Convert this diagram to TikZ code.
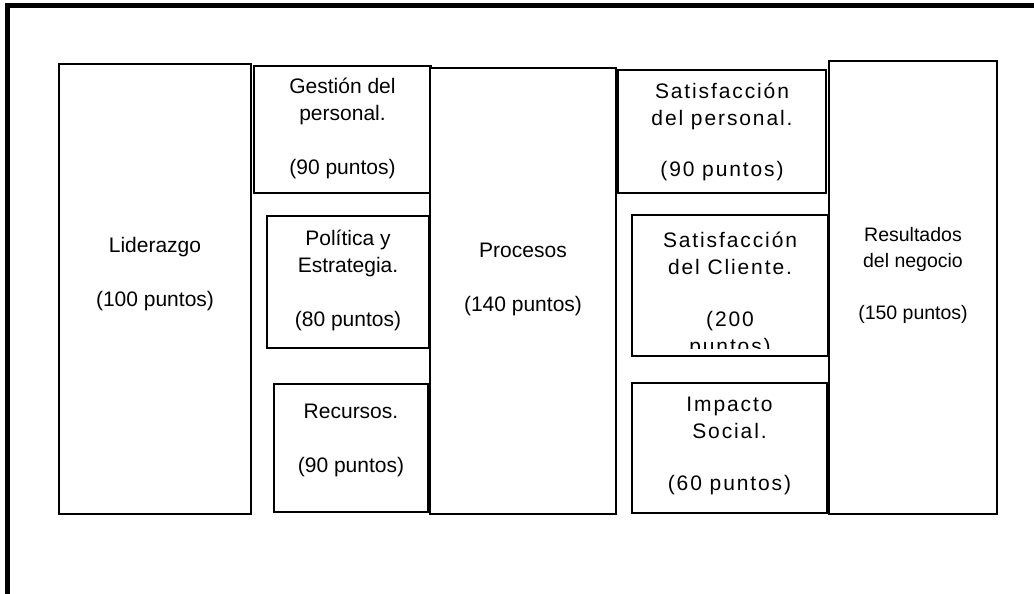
\documentclass[tikz,border=0pt]{standalone}
\usepackage{fontspec}
\setmainfont{Liberation Sans}
\newfontfamily\spacedfont{Liberation Sans}[LetterSpace=9]
\tikzset{
  box/.style={draw, line width=2.5pt, fill=white, rectangle, inner sep=0pt},
  txt/.style={align=center, inner sep=0pt, anchor=north, font=\fontsize{21}{27}\selectfont},
  rtxt/.style={txt, font=\spacedfont\fontsize{21}{27}\selectfont},
  restxt/.style={txt, font=\fontsize{19.5}{26}\selectfont},
  frameline/.style={line width=5pt}
}
\begin{document}
\begin{tikzpicture}[x=1pt,y=-1pt]
\useasboundingbox (0,0) rectangle (1034,594);
% outer frame (clipped at right and bottom)
\coordinate (fa) at (7.5,594);
\coordinate (fb) at (7.5,6);
\coordinate (fc) at (1034,6);
\draw[frameline] (fa) -- (fb) -- (fc);
% boxes
\node[box, minimum width=192, minimum height=450] (lid) at (155,289) {};
\node[box, minimum width=177, minimum height=127] (ges) at (342.5,129.5) {};
\node[box, minimum width=162, minimum height=132] (pol) at (348,282) {};
\node[box, minimum width=154, minimum height=128] (rec) at (351,448) {};
\node[box, minimum width=186, minimum height=446] (pro) at (523,291) {};
\node[box, minimum width=208, minimum height=123] (sp) at (722,131.5) {};
\node[box, minimum width=196, minimum height=141] (sc) at (730,285.5) {};
\node[box, minimum width=195, minimum height=130] (imp) at (729.5,448) {};
\node[box, minimum width=168, minimum height=453] (res) at (913,287.5) {};
% texts
\node[txt] (lidt) at (155,233.6) {\strut Liderazgo\\[27pt](100 puntos)};
\node[txt] (gest) at (342.5,74.6) {\strut Gestión del\\personal.\\[27pt](90 puntos)};
\node[txt] (polt) at (348,226.6) {\strut Política y\\Estrategia.\\[27pt](80 puntos)};
\node[txt] (rect) at (351,399.6) {\strut Recursos.\\[27pt](90 puntos)};
\node[txt] (prot) at (523,238.6) {\strut Procesos\\[27pt](140 puntos)};
\node[rtxt] (spt) at (722,79.6) {\strut Satisfacción\\del personal.\\[24pt](90 puntos)};
\begin{scope}
  \clip (sc.north west) rectangle ([yshift=9pt]sc.south east);
  \node[rtxt] (sct) at (730,228.6) {\strut Satisfacción\\del Cliente.\\[25pt](200\\puntos)};
\end{scope}
\node[rtxt] (impt) at (729.5,392.6) {\strut Impacto\\Social.\\[25pt](60 puntos)};
\node[restxt] (rest) at (913,222.6) {\strut Resultados\\del negocio\\[26pt](150 puntos)};
\end{tikzpicture}
\end{document}
